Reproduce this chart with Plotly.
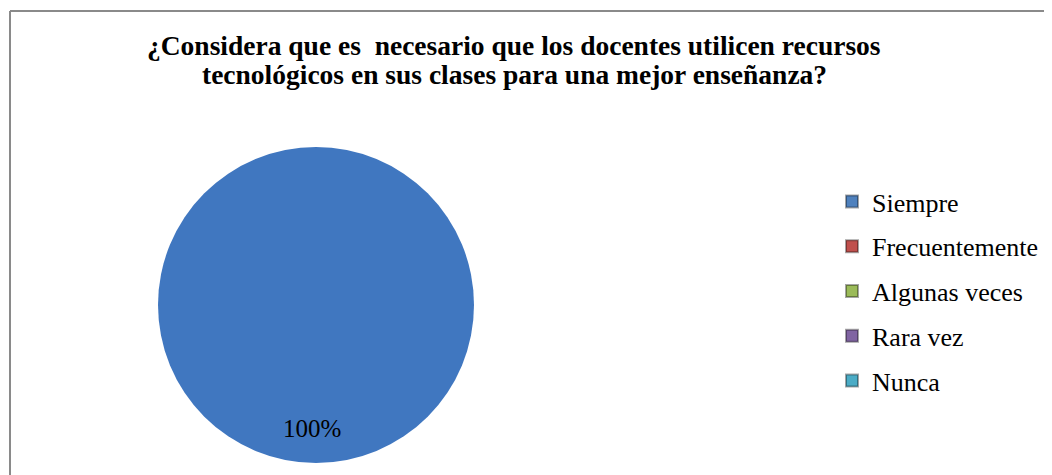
import plotly.graph_objects as go

categories = ["Siempre", "Frecuentemente", "Algunas veces", "Rara vez", "Nunca"]
values = [100, 0, 0, 0, 0]
colors = ["#4f81bd", "#c0504d", "#9bbb59", "#8064a2", "#4bacc6"]
pie_color = "#4077c0"
title_lines = ["¿Considera que es  necesario que los docentes utilicen recursos",
               "tecnológicos en sus clases para una mejor enseñanza?"]

W, H = 1052, 475
OFF = 8  # page body margin


def px(x):
    return (x - OFF) / W


def py(y):
    return 1 - (y - OFF) / H


fig = go.Figure()

fig.add_trace(go.Pie(
    labels=categories, values=values,
    marker=dict(colors=[pie_color] + colors[1:], line=dict(width=0)),
    textinfo="none", sort=False, showlegend=False, hoverinfo="label+percent",
    domain=dict(x=[px(158), px(474)], y=[py(463), py(147)]),
))

for i, (c, col) in enumerate(zip(categories, colors)):
    fig.add_trace(go.Scatter(
        x=[None], y=[None], mode="markers", name=c, legendgroup=f"g{i}",
        marker=dict(symbol="square", size=14, color=col,
                    line=dict(color="rgba(0,0,0,0.35)", width=1)),
    ))

total = sum(values)
pct = f"{round(values[0] / total * 100)}%"
fig.add_annotation(x=px(312), y=py(428), xref="paper", yref="paper",
                   xanchor="center", yanchor="middle",
                   text=pct, showarrow=False,
                   font=dict(family="Liberation Serif", size=25, color="black"))

for line, yc in zip(title_lines, [46, 75]):
    fig.add_annotation(x=px(514), y=py(yc), xref="paper", yref="paper",
                       xanchor="center", yanchor="middle",
                       text=f"<b>{line}</b>", showarrow=False,
                       font=dict(family="Liberation Serif", size=27.5, color="black"))

fig.update_layout(
    width=W, height=H,
    margin=dict(l=0, r=0, t=0, b=0),
    paper_bgcolor="white", plot_bgcolor="white",
    xaxis=dict(visible=False), yaxis=dict(visible=False),
    legend=dict(x=px(832), y=py(178), xanchor="left", yanchor="top",
                font=dict(family="Liberation Serif", size=26, color="black"),
                tracegroupgap=8, itemsizing="constant", bgcolor="rgba(0,0,0,0)"),
    shapes=[
        dict(type="line", xref="paper", yref="paper", x0=px(10), x1=1, y0=py(11), y1=py(11),
             line=dict(color="#8a8a8a", width=2)),
        dict(type="line", xref="paper", yref="paper", x0=px(10), x1=px(10), y0=0, y1=py(11),
             line=dict(color="#8a8a8a", width=2)),
    ],
)

fig.write_html("out.html")
